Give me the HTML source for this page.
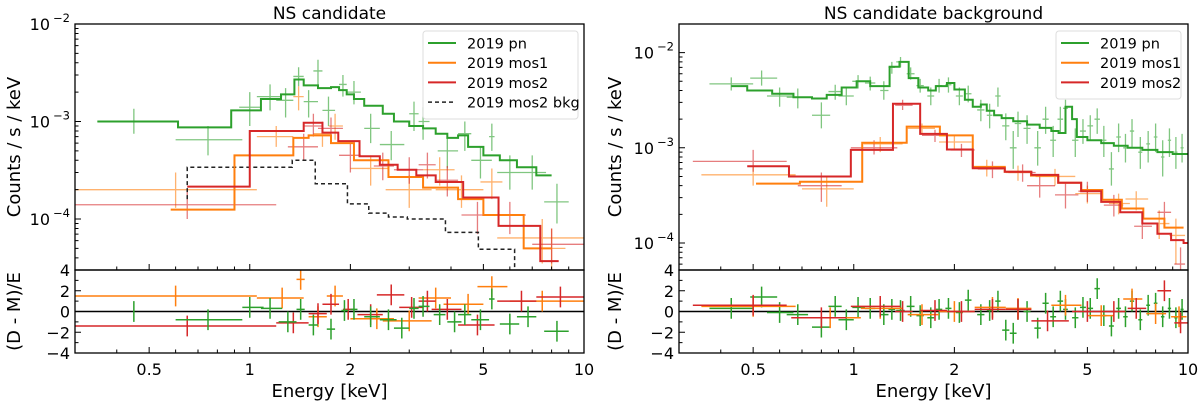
<!DOCTYPE html>
<html><head><meta charset="utf-8">
<style>
body{margin:0;background:#fff;}
svg{display:block;font-family:"DejaVu Sans","Liberation Sans",sans-serif;}
</style></head>
<body>
<svg id="fig" width="1200" height="405" viewBox="0 0 1200 405"></svg>
<script>
// ---------- DATA: left panel (NS candidate) ----------
const leftPnEdges=[0.35,0.61,0.88,1.08,1.24,1.36,1.45,1.6,1.75,1.85,1.95,2.05,2.2,2.5,2.7,3.0,3.3,3.6,3.9,4.2,4.5,5.0,5.6,6.3,7.2,8.0];
const leftPnModel=[1.0e-3,8.7e-4,1.3e-3,1.7e-3,1.9e-3,2.7e-3,2.35e-3,2.2e-3,2.25e-3,2.1e-3,1.9e-3,1.7e-3,1.45e-3,1.2e-3,1.0e-3,9e-4,8.5e-4,7.5e-4,6.8e-4,7.2e-4,5.5e-4,4.5e-4,4.0e-4,3.4e-4,2.8e-4];
const leftM1Edges=[0.58,0.9,1.35,1.5,1.75,2.05,2.6,3.3,4.2,5.0,6.6,8.0];
const leftM1Model=[1.25e-4,4.5e-4,6.8e-4,7.2e-4,6.0e-4,4.0e-4,2.7e-4,2.1e-4,1.6e-4,1.1e-4,5.0e-5];
const leftM2Edges=[0.65,1.0,1.45,1.65,1.84,2.13,2.45,2.77,3.15,3.6,4.35,5.55,7.4,8.4];
const leftM2Model=[2.15e-4,8e-4,9.7e-4,7.7e-4,6.3e-4,4.4e-4,3.6e-4,3.2e-4,2.8e-4,2.4e-4,1.66e-4,8.5e-5,3.7e-5];
const leftBkgEdges=[0.65,1.34,1.57,1.96,2.27,2.6,2.96,3.85,4.83,6.2];
const leftBkgModel=[3.4e-4,4e-4,2.3e-4,1.43e-4,1.15e-4,1.05e-4,1.0e-4,7.3e-5,4.9e-5];
const leftBkgStart=1.6e-4;
// points: [E, xlo, xhi, y, ylo, yhi]
const leftPnData=[[0.45,0.35,0.6,1e-3,7.5e-4,1.35e-3],[0.75,0.6,0.95,6.5e-4,4.5e-4,9e-4],[1.0,0.93,1.08,1.4e-3,9e-4,2e-3],[1.15,1.05,1.25,1.8e-3,1.3e-3,2.4e-3],[1.28,1.2,1.35,1.65e-3,1.1e-3,2.2e-3],[1.4,1.35,1.45,2.9e-3,2.3e-3,3.6e-3],[1.5,1.45,1.6,1.6e-3,1.1e-3,2.1e-3],[1.6,1.55,1.65,3.3e-3,2.3e-3,4.3e-3],[1.72,1.65,1.8,1.3e-3,9e-4,1.8e-3],[1.9,1.85,1.95,2.4e-3,1.8e-3,3e-3],[2.05,1.95,2.15,2.0e-3,1.5e-3,2.6e-3],[2.3,2.2,2.45,8.5e-4,6e-4,1.2e-3],[2.65,2.45,2.9,5.8e-4,4e-4,8e-4],[3.1,3.0,3.2,1.2e-3,8e-4,1.6e-3],[3.3,3.2,3.45,1.0e-3,6.5e-4,1.4e-3],[3.9,3.65,4.2,5e-4,3.3e-4,7e-4],[4.4,4.2,4.6,7.5e-4,5e-4,1e-3],[4.9,4.6,5.3,4e-4,2.6e-4,5.6e-4],[5.3,5.2,5.4,7e-4,5e-4,9.5e-4],[6.0,5.5,6.5,3e-4,2e-4,4.5e-4],[7.0,6.5,7.7,3e-4,2e-4,4.5e-4],[8.3,7.6,9.0,1.5e-4,9e-5,2.3e-4]];
const leftM1Data=[[0.6,0.3,1.05,2e-4,1.3e-4,3e-4],[1.2,1.05,1.35,7e-4,5.5e-4,9e-4],[1.4,1.35,1.45,1.8e-3,1.3e-3,2.3e-3],[1.65,1.55,1.75,7.5e-4,5.5e-4,1e-3],[1.8,1.72,1.9,9e-4,6.5e-4,1.2e-3],[2.3,2.0,2.6,3.3e-4,2.2e-4,4.5e-4],[3.0,2.55,3.5,2e-4,1.3e-4,2.8e-4],[3.7,3.3,4.1,3.2e-4,2.2e-4,4.3e-4],[4.3,3.6,5.0,2e-4,1.3e-4,2.8e-4],[5.3,4.9,5.7,2.4e-4,1.6e-4,3.3e-4],[7.5,5.5,10,6.4e-5,3.5e-5,1e-4],[8.0,7.3,8.8,5e-5,3e-5,8e-5]];
const leftM2Data=[[0.65,0.3,1.2,1.4e-4,1e-4,2e-4],[1.45,1.3,1.6,5.5e-4,4e-4,7.5e-4],[1.55,1.45,1.65,9e-4,7e-4,1.2e-3],[1.75,1.6,1.9,8.5e-4,6e-4,1.1e-3],[2.0,1.85,2.15,4.5e-4,3e-4,6e-4],[2.5,2.35,2.7,3.5e-4,2.5e-4,4.8e-4],[3.0,2.7,3.3,3.2e-4,2.3e-4,4.3e-4],[3.4,3.2,3.6,3.6e-4,2.6e-4,4.8e-4],[3.9,3.6,4.2,2.5e-4,1.7e-4,3.5e-4],[4.8,4.3,5.3,1.1e-4,7e-5,1.5e-4],[6.0,5.3,6.7,1.1e-4,7e-5,1.5e-4],[8.0,7.0,10,5.5e-5,3.5e-5,8e-5]];
// residuals: [E, xlo, xhi, r]
const leftM1Res=[[0.6,0.3,1.05,1.5],[1.25,1.05,1.45,1.3],[1.42,1.38,1.46,3.1],[1.6,1.5,1.7,-0.5],[1.8,1.7,1.9,1.5],[2.4,2.0,2.7,-0.7],[3.0,2.5,3.5,-0.9],[3.6,3.2,4.0,1.3],[4.5,3.8,5.0,0.7],[5.3,4.8,5.9,2.4],[7.5,6.0,10,1.0]];
const leftM2Res=[[0.65,0.3,1.2,-1.4],[1.35,1.2,1.5,-1.1],[1.6,1.5,1.7,-0.2],[1.75,1.65,1.85,0.7],[1.97,1.9,2.05,0.2],[2.3,2.1,2.5,-0.3],[2.65,2.4,2.9,1.6],[3.05,2.8,3.3,0.4],[3.4,3.2,3.6,1.0],[3.9,3.5,4.3,0.2],[4.8,4.2,5.4,-1.3],[6.5,5.5,7.2,1.0],[8.5,7.2,10,1.4]];
const leftPnRes=[[0.45,0.449,0.451,0.0],[0.75,0.6,0.95,-0.8],[1.0,0.95,1.1,0.4],[1.15,1.08,1.25,0.3],[1.3,1.22,1.38,-1.0],[1.42,1.38,1.46,0.2],[1.55,1.5,1.6,-1.3],[1.75,1.7,1.8,-1.7],[1.92,1.88,1.97,0.1],[2.05,2.0,2.1,0.2],[2.3,2.2,2.45,-0.5],[2.6,2.45,2.75,-0.8],[2.85,2.7,3.0,-1.6],[3.1,3.0,3.2,0.3],[3.3,3.2,3.45,0.5],[3.7,3.55,3.85,-0.3],[4.1,3.9,4.3,-1.0],[4.4,4.2,4.6,-0.3],[4.9,4.6,5.2,-0.8],[5.3,5.2,5.4,1.2],[6.0,5.6,6.4,-1.2],[6.8,6.3,7.2,-0.5],[8.3,7.6,9.0,-1.9]];

// ---------- DATA: right panel (background) ----------
const rightPnEdges=[0.43,0.48,0.57,0.66,0.75,0.83,0.92,1.02,1.12,1.28,1.37,1.46,1.56,1.67,1.76,1.9,2.0,2.15,2.27,2.4,2.5,2.63,2.77,3.0,3.3,3.6,3.9,4.1,4.3,4.5,4.65,5.0,5.5,6.0,6.6,7.3,8.1,9.0,10.0];
const rightPnModel=[4.45e-3,4e-3,3.7e-3,3.4e-3,3.3e-3,3.6e-3,4.3e-3,5e-3,4.45e-3,7.1e-3,8e-3,5.4e-3,4.3e-3,4e-3,4.45e-3,4.8e-3,4.1e-3,3.2e-3,2.7e-3,2.85e-3,2.45e-3,2.2e-3,2.05e-3,1.9e-3,1.75e-3,1.62e-3,1.5e-3,1.43e-3,2.7e-3,2.0e-3,1.3e-3,1.2e-3,1.12e-3,1.05e-3,1.0e-3,9.5e-4,9.0e-4,8.6e-4];
const rightM1Edges=[0.51,0.69,1.06,1.44,1.81,2.27,2.83,3.39,4.09,4.79,5.54,6.34,7.35,8.5,9.7];
const rightM1Model=[4.2e-4,4.4e-4,1.13e-3,1.67e-3,1.35e-3,6.3e-4,5.6e-4,5.1e-4,4.3e-4,3.6e-4,2.85e-4,2.3e-4,1.8e-4,1.45e-4];
const rightM2Edges=[0.48,0.64,0.98,1.31,1.58,1.9,2.27,2.83,3.4,4.09,4.79,5.5,6.27,7.3,8.1,8.9,9.7,10];
const rightM2Model=[6.4e-4,5e-4,9.5e-4,2.9e-3,1.4e-3,9.6e-4,6.1e-4,5.6e-4,5.2e-4,4.3e-4,3.5e-4,2.7e-4,2.1e-4,1.6e-4,1.25e-4,1.07e-4,1e-4];
const rightPnData=[[0.43,0.37,0.5,4.7e-3,4e-3,5.5e-3],[0.53,0.49,0.59,5.4e-3,4.5e-3,6.5e-3],[0.6,0.55,0.66,3.5e-3,2.7e-3,4.3e-3],[0.68,0.63,0.73,3.4e-3,2.6e-3,4.2e-3],[0.8,0.75,0.85,2.2e-3,1.6e-3,3e-3],[0.88,0.84,0.92,3.9e-3,3.2e-3,4.6e-3],[0.95,0.9,1.0,3.5e-3,2.8e-3,4.2e-3],[1.03,0.99,1.08,5e-3,4.2e-3,5.8e-3],[1.12,1.08,1.16,4.8e-3,4e-3,5.6e-3],[1.23,1.2,1.27,4e-3,3.2e-3,5e-3],[1.3,1.27,1.33,7e-3,6e-3,8e-3],[1.38,1.34,1.42,8e-3,7e-3,9e-3],[1.48,1.44,1.52,6e-3,5.2e-3,7e-3],[1.58,1.54,1.62,4.5e-3,3.8e-3,5.3e-3],[1.7,1.66,1.74,3.5e-3,2.8e-3,4.3e-3],[1.8,1.76,1.84,4.5e-3,3.8e-3,5.3e-3],[1.92,1.88,1.96,4.6e-3,3.8e-3,5.5e-3],[2.07,2.02,2.12,3.5e-3,2.8e-3,4.3e-3],[2.2,2.15,2.25,3.7e-3,3e-3,4.5e-3],[2.4,2.34,2.46,2.5e-3,1.9e-3,3.2e-3],[2.55,2.5,2.6,2.2e-3,1.6e-3,2.9e-3],[2.7,2.65,2.75,3.5e-3,2.7e-3,4.3e-3],[2.85,2.78,2.92,1.7e-3,1.2e-3,2.3e-3],[3.0,2.93,3.07,1.0e-3,6e-4,1.5e-3],[3.1,3.03,3.17,1.8e-3,1.3e-3,2.4e-3],[3.3,3.22,3.38,1.6e-3,1.1e-3,2.2e-3],[3.55,3.47,3.63,1.0e-3,6.5e-4,1.5e-3],[3.75,3.67,3.83,2.0e-3,1.4e-3,2.7e-3],[3.95,3.87,4.03,1.2e-3,8e-4,1.7e-3],[4.15,4.07,4.23,2.0e-3,1.4e-3,2.7e-3],[4.3,4.23,4.37,2.6e-3,2.1e-3,3.2e-3],[4.6,4.5,4.7,1.2e-3,8e-4,1.6e-3],[4.85,4.75,4.95,1.5e-3,1.1e-3,2e-3],[5.1,5.0,5.2,1.7e-3,1.2e-3,2.2e-3],[5.35,5.25,5.45,2.0e-3,1.4e-3,2.6e-3],[5.6,5.5,5.7,1.2e-3,8e-4,1.7e-3],[5.9,5.8,6.0,6e-4,4e-4,9e-4],[6.2,6.1,6.3,1.3e-3,9e-4,1.8e-3],[6.5,6.4,6.6,1.0e-3,7e-4,1.4e-3],[6.8,6.7,6.9,1.5e-3,1.0e-3,2e-3],[7.2,7.1,7.3,9e-4,6e-4,1.3e-3],[7.6,7.5,7.7,1.1e-3,7e-4,1.5e-3],[8.0,7.9,8.1,1.3e-3,9e-4,1.8e-3],[8.4,8.3,8.5,8e-4,5e-4,1.2e-3],[8.8,8.7,8.9,1.2e-3,8e-4,1.6e-3],[9.2,9.1,9.3,9e-4,6e-4,1.3e-3],[9.6,9.5,9.7,1.0e-3,7e-4,1.4e-3]];
const rightM1Data=[[0.5,0.35,0.67,5.2e-4,4e-4,6.5e-4],[0.83,0.7,1.0,3.7e-4,2.4e-4,5e-4],[1.2,1.07,1.4,1.1e-3,9e-4,1.3e-3],[1.6,1.45,1.75,1.6e-3,1.4e-3,1.8e-3],[2.0,1.8,2.25,1.15e-3,9.5e-4,1.35e-3],[2.5,2.3,2.8,6.2e-4,5e-4,7.5e-4],[3.1,2.85,3.4,5.5e-4,4.5e-4,6.5e-4],[4.0,3.5,4.6,5e-4,4e-4,6e-4],[5.0,4.6,5.5,3.3e-4,2.6e-4,4e-4],[6.2,5.8,6.7,2.6e-4,2e-4,3.3e-4],[7.0,6.5,7.6,2.9e-4,2.2e-4,3.5e-4],[8.2,7.7,8.8,1.6e-4,1.1e-4,2.2e-4],[9.2,8.8,9.8,1.2e-4,6e-5,1.8e-4]];
const rightM2Data=[[0.5,0.33,0.63,7.2e-4,5.6e-4,9.5e-4],[0.8,0.68,0.92,4e-4,2.7e-4,5.5e-4],[1.15,0.98,1.35,1.0e-3,8.5e-4,1.2e-3],[1.4,1.33,1.5,2.8e-3,2.5e-3,3.2e-3],[1.75,1.6,1.9,1.35e-3,1.15e-3,1.55e-3],[2.1,1.95,2.3,9.5e-4,8e-4,1.1e-3],[2.6,2.35,2.8,6e-4,4.8e-4,7.2e-4],[3.2,2.9,3.5,5.5e-4,4.4e-4,6.7e-4],[3.6,3.3,4.0,4e-4,3e-4,5e-4],[4.3,4.0,4.7,3.2e-4,2.3e-4,4.2e-4],[5.0,4.7,5.4,3.5e-4,2.7e-4,4.4e-4],[6.0,5.6,6.4,2.5e-4,1.9e-4,3.2e-4],[7.3,6.9,7.8,1.5e-4,1.1e-4,2e-4],[8.5,8.1,8.9,2.1e-4,1.6e-4,2.7e-4],[9.5,9.1,9.8,6e-5,4.5e-5,9e-5]];
const rightM1Res=[[0.5,0.35,0.67,0.5],[0.85,0.68,1.05,-0.6],[1.2,1.05,1.4,0.3],[1.6,1.45,1.8,-0.3],[2.0,1.8,2.3,0.0],[2.6,2.3,2.85,0.4],[3.1,2.85,3.4,0.3],[4.3,3.9,4.8,0.6],[5.5,5.0,6.0,-0.4],[6.8,6.4,7.3,1.2],[8.0,7.5,8.6,-0.2],[9.4,8.9,9.9,-0.5]];
const rightM2Res=[[0.5,0.33,0.63,0.6],[0.8,0.65,0.95,-0.6],[1.2,0.98,1.38,0.5],[1.4,1.33,1.5,0.0],[1.75,1.58,1.9,0.1],[2.1,1.9,2.3,0.0],[2.6,2.3,2.85,0.2],[3.1,2.85,3.4,0.2],[3.8,3.4,4.4,-0.9],[5.0,4.5,5.5,0.0],[6.0,5.5,6.5,0.0],[7.0,6.6,7.5,0.3],[8.5,8.1,8.9,2.0],[9.5,9.1,10,-1.1]];
const rightPnResVals=[0.3,1.4,-0.1,-0.3,-1.5,0.5,-0.8,0.4,0.3,-0.3,0.2,0.1,0.5,-0.4,-0.6,0.2,0.3,-0.1,1.1,-0.3,0.1,1.0,-1.8,-2.1,0.2,0.0,-1.6,0.8,-0.5,1.0,0.2,-0.6,0.4,0.3,2.2,-0.4,-1.4,0.3,-0.5,1.0,-0.8,0.6,0.8,-0.5,0.3,-0.6,0.2];

const xTickVals=[0.5,1,2,5,10];
const xTickLabels=["0.5","1","2","5","10"];
const resTickVals=[4,2,0,-2,-4];
const resTickLabels=["4","2","0","\u22122","\u22124"];

const GREEN="#2ca02c",ORANGE="#ff7f0e",RED="#d62728";
const NS="http://www.w3.org/2000/svg";
const svg=document.getElementById('fig');
function mk(tag,attrs,parent){const e=document.createElementNS(NS,tag);for(const k in attrs)e.setAttribute(k,attrs[k]);(parent||svg).appendChild(e);return e;}

function panel(P){
  const g=mk('g',{});
  
  
  const L=P.left,R=P.right,T=24,MB=270,RB=353;
  const lx0=Math.log10(0.3),lx1=1;
  const X=e=>L+(Math.log10(e)-lx0)/(lx1-lx0)*(R-L);
  const ly0=Math.log10(P.ymin),ly1=Math.log10(P.ymax);
  const Y=v=>MB-(Math.log10(v)-ly0)/(ly1-ly0)*(MB-T);
  const RY=r=>RB-(r+4)/8*(RB-MB);
  const cid=P.name+'-clip',rid=P.name+'-rclip';
  const defs=mk('defs',{},g);
  const c1=mk('clipPath',{id:cid},defs);mk('rect',{x:L,y:T,width:R-L,height:MB-T},c1);
  const c2=mk('clipPath',{id:rid},defs);mk('rect',{x:L,y:MB,width:R-L,height:RB-MB},c2);
  const main=mk('g',{'clip-path':'url(#'+cid+')'},g);
  const res=mk('g',{'clip-path':'url(#'+rid+')'},g);
  function pts(arr,col,nm){
    arr.forEach(d=>{
      const p=mk('path',{d:`M${X(d[1])},${Y(d[3])}H${X(d[2])}M${X(d[0])},${Y(d[4])}V${Y(d[5])}`,stroke:col,'stroke-width':1.3,'stroke-opacity':0.6,fill:'none'},main);
      
      
    });
  }
  function rpts(arr,col,nm){
    arr.forEach(d=>{
      const p=mk('path',{d:`M${X(d[1])},${RY(d[3])}H${X(d[2])}M${X(d[0])},${RY(d[3]-1)}V${RY(d[3]+1)}`,stroke:col,'stroke-width':1.5,fill:'none'},res);
      
      
    });
  }
  function step(edges,vals,col,nm,dash,dropEnd,startVal){
    let d=`M${X(edges[0])},${startVal?Y(startVal):Y(vals[0])}`;
    for(let i=0;i<vals.length;i++){d+=`V${Y(vals[i])}H${X(edges[i+1])}`;}
    if(dropEnd)d+=`V${MB+5}`;
    const p=mk('path',{d,stroke:col,'stroke-width':dash?1.5:2,fill:'none','stroke-dasharray':dash?'4,3':'none'},main);
    
    
  }
  P.points.forEach(s=>pts(s[0],s[1],s[2]));
  P.models.forEach(s=>step(s[0],s[1],s[2],s[3],s[4],s[5],s[6]));
  mk('line',{x1:L,x2:R,y1:RY(0),y2:RY(0),stroke:'#000','stroke-width':1.5},res);
  P.res.forEach(s=>rpts(s[0],s[1],s[2]));
  const f1=mk('rect',{x:L,y:T,width:R-L,height:MB-T,fill:'none',stroke:'#000','stroke-width':1.3},g);
  
  const f2=mk('rect',{x:L,y:MB,width:R-L,height:RB-MB,fill:'none',stroke:'#000','stroke-width':1.3},g);
  
  let tk='';
  for(let dec=-1;dec<=0;dec++)for(let m=1;m<=9;m++){const e=m*Math.pow(10,dec);if(e<0.3||e>10)continue;
    const major=xTickVals.includes(+e.toFixed(2));const len=major?6:3.5;const x=X(e);
    tk+=`M${x},${MB}v${-len}M${x},${RB}v${-len}`;}
  for(let dec=-5;dec<=-1;dec++)for(let m=1;m<=9;m++){const v=m*Math.pow(10,dec);if(v<P.ymin||v>P.ymax)continue;
    tk+=`M${L},${Y(v)}h${m==1?6:3.5}`;}
  for(let r=-4;r<=4;r++){tk+=`M${L},${RY(r)}h${r%2==0?6:3.5}`;}
  mk('path',{d:tk,stroke:'#000','stroke-width':1,fill:'none'},g);
  xTickVals.forEach((v,i)=>{const t=mk('text',{x:X(v),y:RB+22,'font-size':16,'text-anchor':'middle'},g);t.textContent=xTickLabels[i];
    });
  resTickVals.forEach((v,i)=>{const t=mk('text',{x:L-5,y:RY(v)+6,'font-size':16,'text-anchor':'end'},g);t.textContent=resTickLabels[i];
    });
  P.yTicks.forEach(p=>{const y=Y(Math.pow(10,p));if(y<T-1||y>MB)return;
    const t=mk('text',{x:L-25,y:y+6,'font-size':16,'text-anchor':'end'},g);t.textContent='10';
    
    const s=mk('text',{x:L-5,y:y-2,'font-size':11.5,'text-anchor':'end'},g);s.textContent='\u2212'+(-p);
    });
  const tt=mk('text',{x:(L+R)/2,y:19,'font-size':17,'text-anchor':'middle'},g);tt.textContent=P.title;
  
  const xl=mk('text',{x:(L+R)/2,y:397,'font-size':18,'text-anchor':'middle'},g);xl.textContent='Energy [keV]';
  
  const yl=mk('text',{x:0,y:0,'font-size':18,'text-anchor':'middle',transform:`translate(${P.ylx},${(T+MB)/2}) rotate(-90)`},g);yl.textContent='Counts / s / keV';
  
  const rl=mk('text',{x:0,y:0,'font-size':18,'text-anchor':'middle',transform:`translate(${P.ylx},${(MB+RB)/2}) rotate(-90)`},g);rl.textContent='(D - M)/E';
  
  const lg=mk('g',{},g);
  
  const lh=8+P.legend.length*20;
  mk('rect',{x:P.legX,y:31,width:P.legW,height:lh,rx:3,fill:'#fff','fill-opacity':0.85,stroke:'#ddd'},lg);
  P.legend.forEach((e,i)=>{const y=43+i*19.7;
    const ent=mk('g',{},lg);
    mk('line',{x1:P.legX+5,x2:P.legX+33,y1:y,y2:y,stroke:e[1],'stroke-width':e[2]?1.5:2,'stroke-dasharray':e[2]?'4,3':'none'},ent);
    const t=mk('text',{x:P.legX+44,y:y+5.5,'font-size':14.5},ent);t.textContent=e[0];});
}

const rightPnRes=rightPnData.slice(0,rightPnResVals.length).map((d,i)=>[d[0],d[1],d[2],rightPnResVals[i]]);

panel({name:'left-panel',title:'NS candidate',left:75,right:584,ymin:3e-5,ymax:1e-2,yTicks:[-2,-3,-4],ylx:20,
  points:[[leftPnData,GREEN,'pn-data-point'],[leftM1Data,ORANGE,'mos1-data-point'],[leftM2Data,RED,'mos2-data-point']],
  models:[[leftBkgEdges,leftBkgModel,'#222','mos2-bkg-model',true,true,leftBkgStart],[leftPnEdges,leftPnModel,GREEN,'pn-model',false,false],[leftM1Edges,leftM1Model,ORANGE,'mos1-model',false,false],[leftM2Edges,leftM2Model,RED,'mos2-model',false,false]],
  res:[[leftM1Res,ORANGE,'mos1-residual'],[leftM2Res,RED,'mos2-residual'],[leftPnRes,GREEN,'pn-residual']],
  legX:423,legW:155,legend:[['2019 pn',GREEN],['2019 mos1',ORANGE],['2019 mos2',RED],['2019 mos2 bkg','#222',true]]});
panel({name:'right-panel',title:'NS candidate background',left:679,right:1188,ymin:5.2e-5,ymax:2e-2,yTicks:[-2,-3,-4],ylx:621,
  points:[[rightPnData,GREEN,'pn-data-point'],[rightM1Data,ORANGE,'mos1-data-point'],[rightM2Data,RED,'mos2-data-point']],
  models:[[rightPnEdges,rightPnModel,GREEN,'pn-model',false,false],[rightM1Edges,rightM1Model,ORANGE,'mos1-model',false,false],[rightM2Edges,rightM2Model,RED,'mos2-model',false,false]],
  res:[[rightPnRes,GREEN,'pn-residual'],[rightM1Res,ORANGE,'mos1-residual'],[rightM2Res,RED,'mos2-residual']],
  legX:1056,legW:125,legend:[['2019 pn',GREEN],['2019 mos1',ORANGE],['2019 mos2',RED]]});
</script>
</body></html>
